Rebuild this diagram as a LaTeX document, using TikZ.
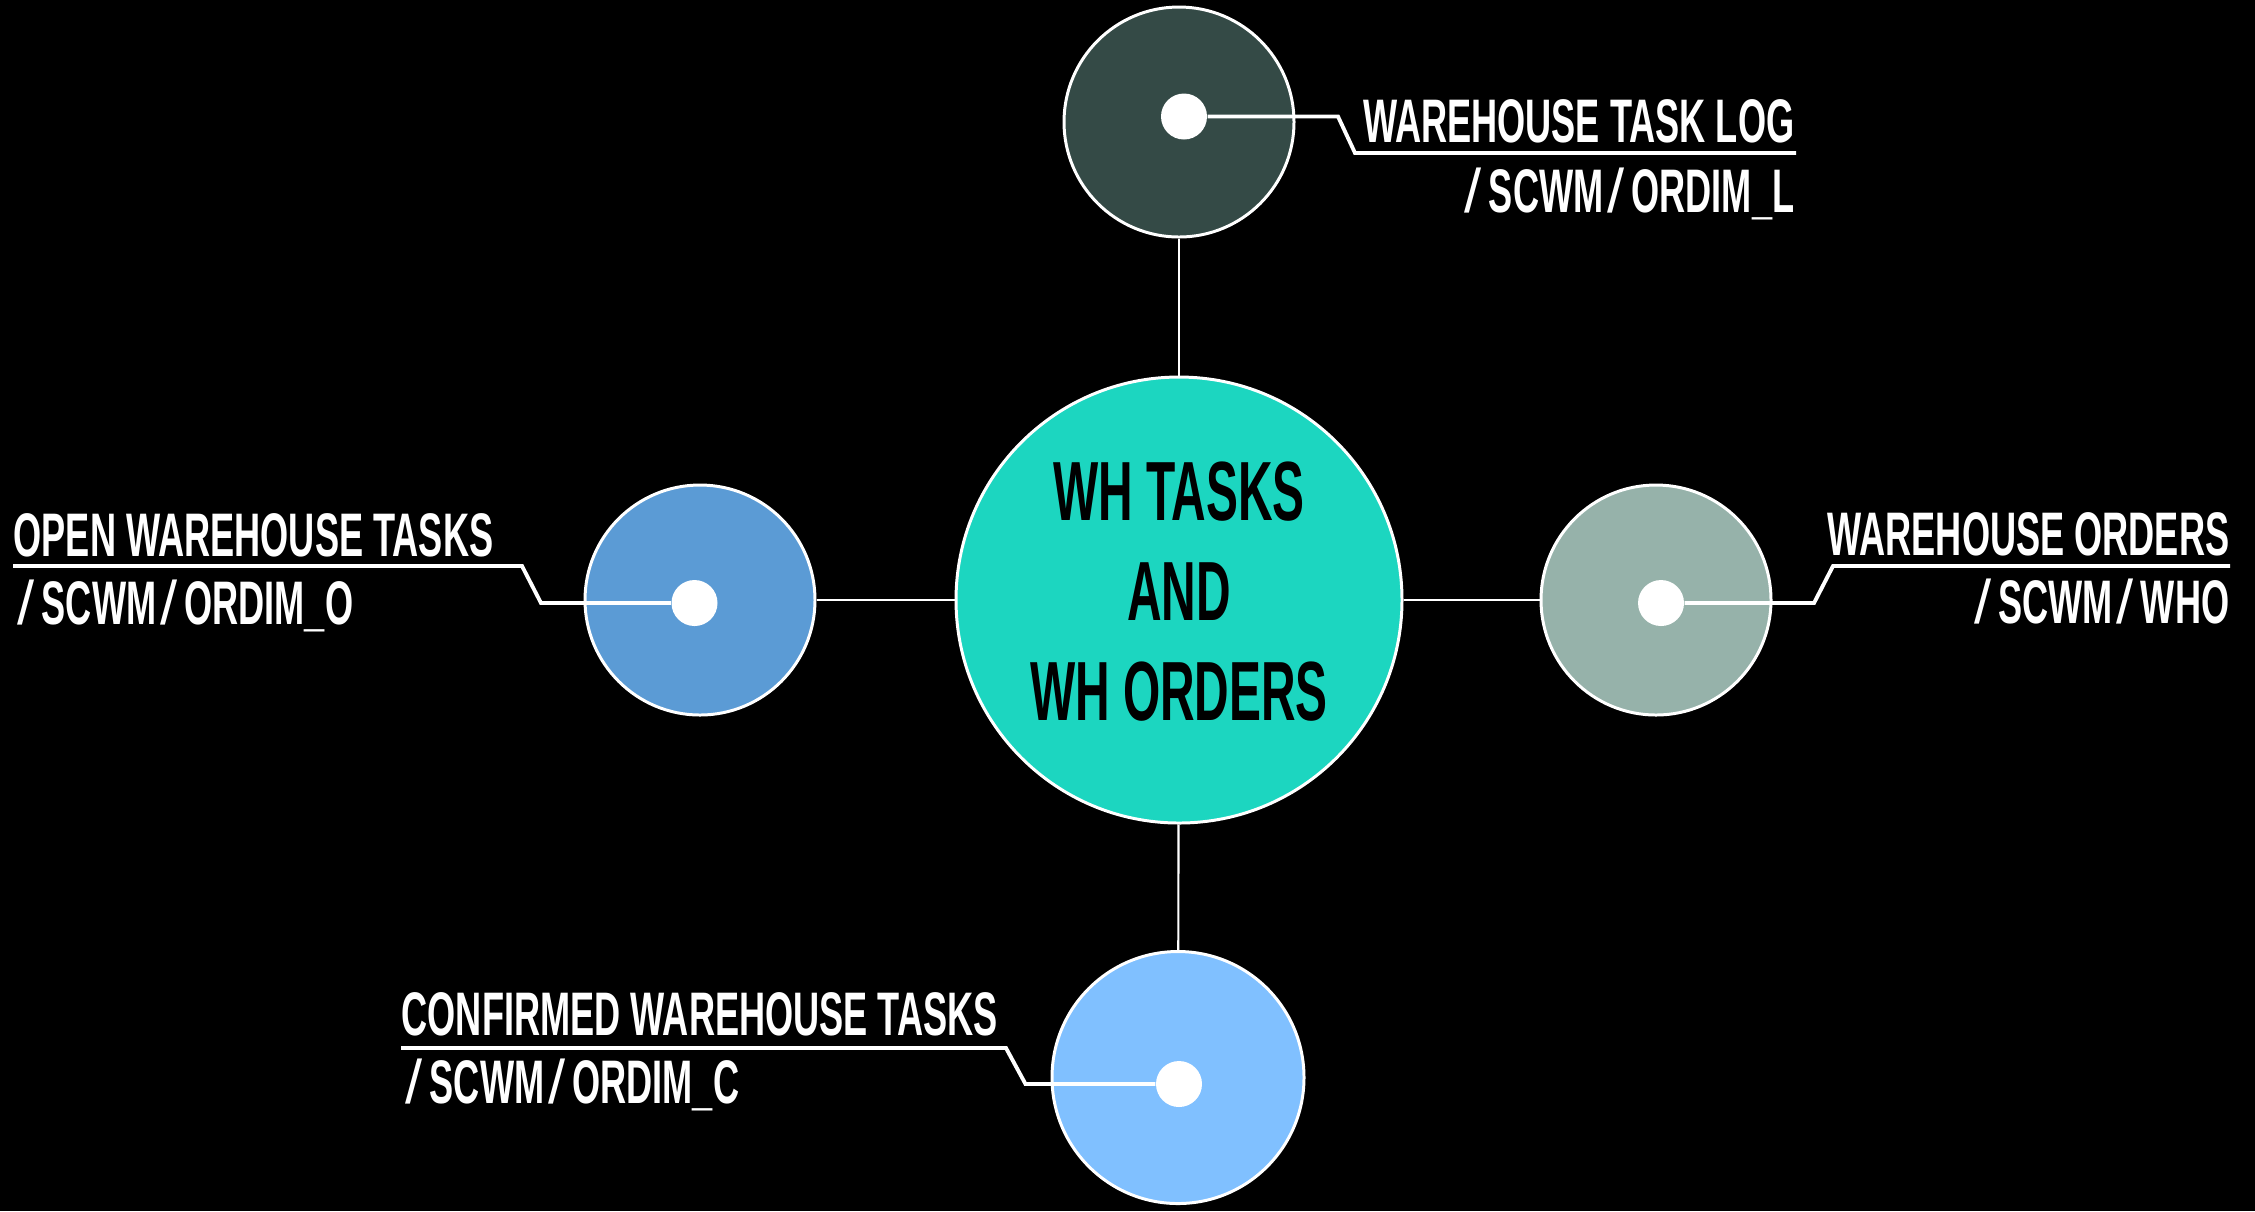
\documentclass[tikz,border=0pt]{standalone}
\usepackage{fontspec}
\newfontfamily\cond{Liberation Sans}[FakeStretch=0.57,UprightFont={* Bold}]
\newfontfamily\condl{Liberation Sans}[FakeStretch=0.588,UprightFont={* Bold}]
\newfontfamily\slfont{Liberation Sans}
\newcommand\slsh{\kern0.04cm{\slfont\fontsize{17.5}{20}\selectfont/}\kern0.07cm}
\definecolor{cTop}{HTML}{344A46}
\definecolor{cLeft}{HTML}{5B9BD5}
\definecolor{cRight}{HTML}{96B2AA}
\definecolor{cBot}{HTML}{80C0FF}
\definecolor{cCen}{HTML}{1CD6C0}
\begin{document}
\begin{tikzpicture}[
  bubble/.style={circle, draw=white, line width=0.85pt, inner sep=0pt},
  dotnode/.style={circle, fill=white, inner sep=0pt, minimum size=0.46cm},
  link/.style={draw=white, line width=0.6pt},
  callout/.style={draw=white, line width=1.1pt},
  lbl/.style={text=white, inner sep=0pt, font=\condl\fontsize{17.5}{20}\selectfont},
  centxt/.style={text=black, inner sep=0pt, align=center, font=\cond\fontsize{23.9}{28.45}\selectfont}
]
\fill[black] (0,0) rectangle (22.55,-12.11);
\useasboundingbox (0,0) rectangle (22.55,-12.11);

% circles
\node[bubble, fill=cCen, minimum size=4.46cm] (C) at (11.79,-6.00) {};
\node[bubble, fill=cTop, minimum size=2.30cm] (T) at (11.79,-1.22) {};
\node[bubble, fill=cLeft, minimum size=2.30cm] (L) at (7.00,-6.00) {};
\node[bubble, fill=cRight, minimum size=2.30cm] (R) at (16.56,-6.00) {};
\node[bubble, fill=cBot, minimum size=2.52cm] (B) at (11.78,-10.775) {};

% links
\draw[link] (T) -- (C);
\draw[link] (C) -- (B);
\draw[link] (L) -- (C);
\draw[link] (C) -- (R);

% center text
\node[centxt] (ctext) at (11.79,-5.92) {WH TASKS\\AND\\WH ORDERS};

% dots
\node[dotnode] (tdot) at (11.84,-1.165) {};
\node[dotnode] (ldot) at (6.945,-6.03) {};
\node[dotnode] (rdot) at (16.61,-6.03) {};
\node[dotnode] (bdot) at (11.79,-10.84) {};

% callout bends
\coordinate (t1) at (13.38,-1.165);
\coordinate (t2) at (13.55,-1.53);
\coordinate (t3) at (17.96,-1.53);
\coordinate (l1) at (5.41,-6.03);
\coordinate (l2) at (5.22,-5.66);
\coordinate (l3) at (0.13,-5.66);
\coordinate (r1) at (18.14,-6.03);
\coordinate (r2) at (18.33,-5.66);
\coordinate (r3) at (22.30,-5.66);
\coordinate (b1) at (10.255,-10.84);
\coordinate (b2) at (10.06,-10.48);
\coordinate (b3) at (4.01,-10.48);

\draw[callout] (tdot) -- (t1) -- (t2) -- (t3);
\draw[callout] (ldot) -- (l1) -- (l2) -- (l3);
\draw[callout] (rdot) -- (r1) -- (r2) -- (r3);
\draw[callout] (bdot) -- (b1) -- (b2) -- (b3);

% labels
\node[lbl, anchor=base east] (tl1) at (17.95,-1.42) {WAREHOUSE TASK LOG};
\node[lbl, anchor=base east] (tl2) at (17.95,-2.12) {\slsh SCWM\slsh ORDIM\_L};
\node[lbl, anchor=base west] (ll1) at (0.13,-5.56) {OPEN WAREHOUSE TASKS};
\node[lbl, anchor=base west] (ll2) at (0.13,-6.24) {\slsh SCWM\slsh ORDIM\_O};
\node[lbl, anchor=base east] (rl1) at (22.30,-5.55) {WAREHOUSE ORDERS};
\node[lbl, anchor=base east] (rl2) at (22.30,-6.23) {\slsh SCWM\slsh WHO};
\node[lbl, anchor=base west] (bl1) at (4.01,-10.35) {CONFIRMED WAREHOUSE TASKS};
\node[lbl, anchor=base west] (bl2) at (4.01,-11.03) {\slsh SCWM\slsh ORDIM\_C};
\end{tikzpicture}
\end{document}
